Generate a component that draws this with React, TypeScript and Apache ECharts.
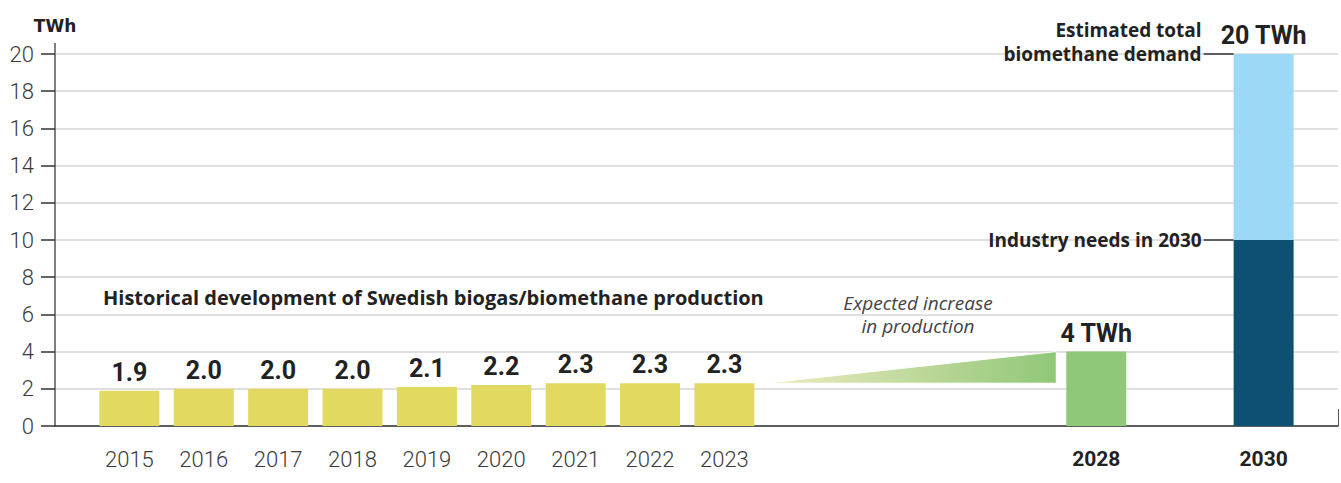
import React, { useEffect, useRef } from "react";
import * as echarts from "echarts";

// ---- data ----
const historicalYears = ["2015", "2016", "2017", "2018", "2019", "2020", "2021", "2022", "2023"];
const historicalValues = [1.9, 2.0, 2.0, 2.0, 2.1, 2.2, 2.3, 2.3, 2.3];
const projectionYear = "2028";
const projectionValue = 4;
const targetYear = "2030";
const industryNeed = 10;
const totalDemand = 20;
const unitLabel = "TWh";
const historicalTitle = "Historical development of Swedish biogas/biomethane production";
const increaseNote = "Expected increase\nin production";
const totalNote = "Estimated total\nbiomethane demand";
const industryNote = "Industry needs in 2030";

// ---- layout (slot grid along the category axis) ----
const SLOT_COUNT = 70;
const HIST_START = 4;
const HIST_STEP = 4;
const PROJ_SLOT = 56;
const TARGET_SLOT = 65;
const BAR_W = 60;

const FONT = "Roboto, 'Noto Sans', sans-serif";
const WIDE = "'Open Sans', 'Noto Sans', sans-serif";

export default function App() {
  const ref = useRef<HTMLDivElement>(null);

  useEffect(() => {
    document.body.style.margin = "0";
    const chart = echarts.init(ref.current!, null, { renderer: "svg" });

    const categories: string[] = new Array(SLOT_COUNT).fill("");
    historicalYears.forEach((y, i) => (categories[HIST_START + i * HIST_STEP] = y));
    categories[PROJ_SLOT] = projectionYear;
    categories[TARGET_SLOT] = targetYear;
    const boldYears = [projectionYear, targetYear];

    const baseData: any[] = new Array(SLOT_COUNT).fill(null);
    historicalValues.forEach((v, i) => {
      baseData[HIST_START + i * HIST_STEP] = {
        value: v,
        itemStyle: { color: "#e2d960" },
        label: { show: true, formatter: v.toFixed(1) },
      };
    });
    baseData[PROJ_SLOT] = {
      value: projectionValue,
      itemStyle: { color: "#8fc878" },
      label: { show: true, formatter: `${projectionValue} ${unitLabel}` },
    };
    baseData[TARGET_SLOT] = {
      value: industryNeed,
      itemStyle: { color: "#0e4f74" },
      label: { show: false },
    };
    const topData: any[] = new Array(SLOT_COUNT).fill(null);
    topData[TARGET_SLOT] = {
      value: totalDemand - industryNeed,
      itemStyle: { color: "#9bd9f6" },
      label: { show: true, formatter: `${totalDemand} ${unitLabel}` },
    };

    const lastHistSlot = HIST_START + (historicalValues.length - 1) * HIST_STEP;
    const lastHist = historicalValues[historicalValues.length - 1];

    const barLabel = {
      position: "top",
      distance: 6,
      fontFamily: FONT,
      fontWeight: "bold",
      fontSize: 25,
      color: "#222",
    };

    chart.setOption({
      animation: false,
      grid: { left: 55, right: 3, top: 54, bottom: 57, containLabel: false },
      xAxis: {
        type: "category",
        data: categories,
        boundaryGap: false,
        axisLine: { lineStyle: { color: "#333", width: 1.5 } },
        axisTick: {
          show: true,
          inside: true,
          length: 17,
          interval: (i: number) => i === SLOT_COUNT - 1,
          lineStyle: { color: "#555", width: 1 },
        },
        axisLabel: {
          interval: 0,
          margin: 22,
          fontFamily: FONT,
          fontSize: 22,
          fontWeight: 300,
          color: "#3a3a3a",
          formatter: (v: string) => (boldYears.includes(v) ? `{b|${v}}` : v),
          rich: {
            b: { fontFamily: FONT, fontSize: 21, fontWeight: "bold", color: "#222" },
          },
        },
        splitLine: { show: false },
      },
      yAxis: {
        type: "value",
        min: 0,
        max: 20,
        interval: 2,
        name: unitLabel,
        nameLocation: "end",
        nameGap: 20,
        nameTextStyle: {
          fontFamily: "'DejaVu Sans', sans-serif",
          fontWeight: "bold",
          fontSize: 17,
          color: "#222",
        },
        axisLine: { show: true, lineStyle: { color: "#555", width: 1.5 } },
        axisTick: { show: true, inside: false, length: 14, lineStyle: { color: "#333", width: 1.5 } },
        axisLabel: {
          margin: 21,
          fontFamily: FONT,
          fontSize: 22,
          fontWeight: 300,
          color: "#3a3a3a",
        },
        splitLine: { show: true, lineStyle: { color: "#d6d6d6", width: 1.5 } },
      },
      series: [
        {
          type: "bar",
          name: "base",
          stack: "s",
          barWidth: BAR_W,
          data: baseData,
          label: barLabel,
        },
        {
          type: "bar",
          name: "top",
          stack: "s",
          barWidth: BAR_W,
          data: topData,
          label: barLabel,
        },
        {
          type: "custom",
          name: "increase",
          data: [[lastHistSlot, lastHist, PROJ_SLOT, projectionValue]],
          encode: { x: 0, y: 1 },
          z: 1,
          renderItem: (params: any, api: any) => {
            const a = api.coord([api.value(0), api.value(1)]);
            const b = api.coord([api.value(2), api.value(3)]);
            const base = api.coord([api.value(2), api.value(1)]);
            const x0 = a[0] + BAR_W / 2 + 11;
            const x1 = b[0] - BAR_W / 2 - 10;
            return {
              type: "polygon",
              shape: { points: [[x0, a[1]], [x1, b[1]], [x1, base[1]]] },
              style: {
                fill: new echarts.graphic.LinearGradient(0, 0, 1, 0, [
                  { offset: 0, color: "#f0ecc0" },
                  { offset: 1, color: "#90c778" },
                ]),
                stroke: "#fff",
                lineWidth: 1,
              },
            };
          },
        },
        {
          type: "custom",
          name: "notes",
          data: [
            [TARGET_SLOT, totalDemand, 0],
            [TARGET_SLOT, industryNeed, 1],
          ],
          encode: { x: 0, y: 1 },
          z: 5,
          renderItem: (params: any, api: any) => {
            const p = api.coord([api.value(0), api.value(1)]);
            const barLeft = p[0] - BAR_W / 2;
            const text = api.value(2) === 0 ? totalNote : industryNote;
            return {
              type: "group",
              children: [
                {
                  type: "line",
                  shape: { x1: barLeft - 30, y1: p[1], x2: barLeft, y2: p[1] },
                  style: { stroke: "#333", lineWidth: 1.5 },
                },
                {
                  type: "text",
                  x: barLeft - 32,
                  y: p[1] + 12,
                  style: {
                    text,
                    align: "right",
                    verticalAlign: "bottom",
                    fontFamily: WIDE,
                    fontWeight: "bold",
                    fontSize: 19,
                    lineHeight: 24,
                    fill: "#222",
                  },
                },
              ],
            };
          },
        },
      ],
      graphic: [
        {
          type: "line",
          shape: { x1: 55, y1: 43, x2: 55, y2: 54 },
          style: { stroke: "#555", lineWidth: 1.5 },
        },
        {
          type: "text",
          x: 103,
          y: 297,
          style: {
            text: historicalTitle,
            verticalAlign: "middle",
            fontFamily: WIDE,
            fontWeight: "bold",
            fontSize: 20,
            fill: "#222",
          },
        },
        {
          type: "text",
          x: 918,
          y: 291,
          style: {
            text: increaseNote,
            align: "center",
            verticalAlign: "top",
            fontFamily: WIDE,
            fontStyle: "italic",
            fontWeight: 400,
            fontSize: 19,
            lineHeight: 23.5,
            fill: "#444",
          },
        },
      ],
    });

    return () => chart.dispose();
  }, []);

  return <div ref={ref} style={{ width: 1341, height: 483 }} />;
}
